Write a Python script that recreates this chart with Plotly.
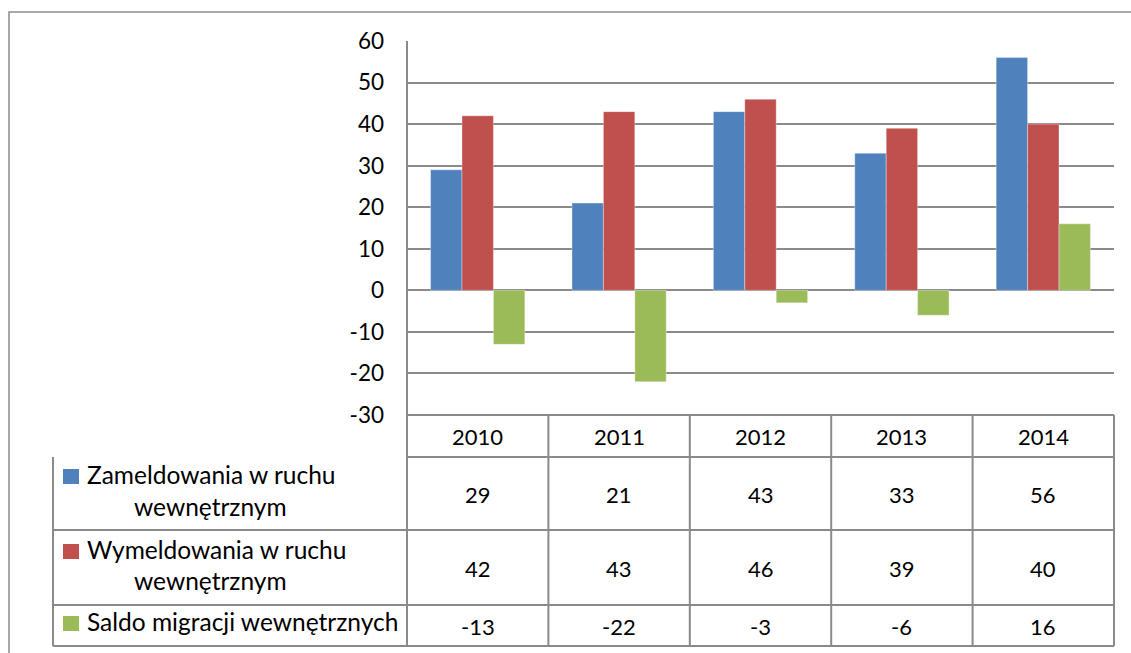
import plotly.graph_objects as go

years = ["2010", "2011", "2012", "2013", "2014"]
series_names = ["Zameldowania w ruchu wewnętrznym",
                "Wymeldowania w ruchu wewnętrznym",
                "Saldo migracji wewnętrznych"]
label_lines = [["Zameldowania w ruchu", "wewnętrznym"],
               ["Wymeldowania w ruchu", "wewnętrznym"],
               ["Saldo migracji wewnętrznych"]]
zameldowania = [29, 21, 43, 33, 56]
wymeldowania = [42, 43, 46, 39, 40]
saldo = [-13, -22, -3, -6, 16]
colors = ["#4F81BD", "#C0504D", "#9BBB59"]
y_ticks = [-30, -20, -10, 0, 10, 20, 30, 40, 50, 60]
y_tick_text = ["-30", "-20", "-10", "0", "10", "20", "30", "40", "50", "60"]

W, H = 1131, 653
FONT = "Lato, Carlito, Calibri, sans-serif"
GRID = "#8a8a8a"

def py(p):
    return 1 - p / H

X0, X1 = 407, 1114
def dx(p):
    return (p - X0) / (X1 - X0)

PLOT_TOP, PLOT_BOT = 41, 415
rows = [(415, 457), (457, 530), (530, 605), (605, 646)]

fig = go.Figure()
all_vals = [zameldowania, wymeldowania, saldo]
for name, vals, c in zip(series_names, all_vals, colors):
    fig.add_trace(go.Bar(x=list(range(len(years))), y=vals, name=name,
                         marker=dict(color=c, line=dict(width=0.6, color="rgba(255,255,255,0.6)")),
                         showlegend=False, hoverinfo="skip"))

shapes = []
# outer border
shapes.append(dict(type="rect", xref="paper", yref="paper", x0=9 / W, x1=1.01, y0=-0.01, y1=py(12),
                   line=dict(color="#8c8c8c", width=1.5), fillcolor="rgba(0,0,0,0)", layer="below"))
# table lines
shapes.append(dict(type="line", xref="x domain", yref="paper", x0=0, x1=1, y0=py(rows[0][0]), y1=py(rows[0][0]),
                   line=dict(color=GRID, width=2)))
for (a, b) in rows:
    x_start = dx(53) if a >= 457 else 0
    shapes.append(dict(type="line", xref="x domain", yref="paper", x0=x_start, x1=1, y0=py(b), y1=py(b),
                       line=dict(color=GRID, width=2)))
for k in range(0, 6):
    top = PLOT_TOP if k == 0 else rows[0][0]
    shapes.append(dict(type="line", xref="x domain", yref="paper", x0=k / 5, x1=k / 5, y0=py(top), y1=py(rows[-1][1]),
                       line=dict(color=GRID, width=2)))
shapes.append(dict(type="line", xref="x domain", yref="paper", x0=dx(53), x1=dx(53), y0=py(457), y1=py(646),
                   line=dict(color=GRID, width=2)))

annotations = []
for i, yr in enumerate(years):
    annotations.append(dict(x=i, xref="x", y=py((rows[0][0] + rows[0][1]) / 2), yref="paper", text=yr,
                            showarrow=False, font=dict(family=FONT, size=22, color="black"), yanchor="middle"))
for r, vals in enumerate(all_vals):
    a, b = rows[r + 1]
    for i, v in enumerate(vals):
        annotations.append(dict(x=i, xref="x", y=py((a + b) / 2 + 1), yref="paper", text=str(v),
                                showarrow=False, font=dict(family=FONT, size=22, color="black"), yanchor="middle"))
baselines = [[485, 517], [560, 591], [632]]
for r, lines in enumerate(label_lines):
    for j, (txt, bl) in enumerate(zip(lines, baselines[r])):
        if j == 0:
            annotations.append(dict(x=dx(85), xref="x domain", y=py(bl + 6), yref="paper", text=txt, xanchor="left",
                                    yanchor="bottom", showarrow=False, font=dict(family=FONT, size=24.5, color="black")))
        else:
            annotations.append(dict(x=dx(210), xref="x domain", y=py(bl + 6), yref="paper", text=txt, xanchor="center",
                                    yanchor="bottom", showarrow=False, font=dict(family=FONT, size=24.5, color="black")))
    bl0 = baselines[r][0]
    shapes.append(dict(type="rect", xref="x domain", yref="paper", x0=dx(63), x1=dx(79), y0=py(bl0 - 1), y1=py(bl0 - 16),
                       fillcolor=colors[r], line=dict(width=0)))

fig.update_layout(
    width=W, height=H, margin=dict(l=0, r=0, t=0, b=0, pad=0), autosize=False,
    paper_bgcolor="white", plot_bgcolor="white",
    barmode="group", bargap=1 / 3, bargroupgap=0,
    font=dict(family=FONT, size=22, color="black"),
    shapes=shapes, annotations=annotations,
    xaxis=dict(domain=[X0 / W, X1 / W], range=[-0.5, 4.5], showticklabels=False, showgrid=False,
               zeroline=False, showline=False, ticks="", automargin=False),
    yaxis=dict(domain=[py(PLOT_BOT), py(PLOT_TOP)], range=[-30, 60], tickvals=y_ticks, ticktext=y_tick_text,
               automargin=False, showgrid=True, gridcolor=GRID, gridwidth=2, zeroline=True, zerolinecolor=GRID,
               zerolinewidth=2, showline=False, ticks="", ticklabelstandoff=22,
               tickfont=dict(family=FONT, size=22.5, color="black")),
)

fig.write_html("out.html", config={"displayModeBar": False},
               post_script="document.body.style.margin='0';")
